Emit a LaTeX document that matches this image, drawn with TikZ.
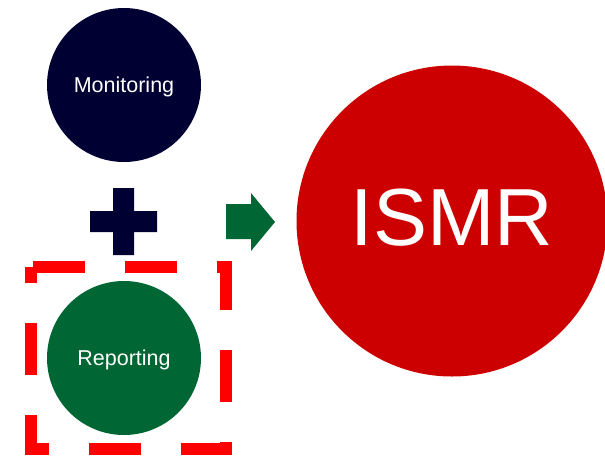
\documentclass[tikz,border=0pt]{standalone}
\usepackage{fontspec}
\setmainfont{Liberation Sans}
\usepackage{tikz}

\definecolor{navy}{HTML}{000033}
\definecolor{darkgreen}{HTML}{006633}
\definecolor{ismrred}{HTML}{CC0000}

\tikzset{
	bubble/.style={circle, inner sep=0pt, minimum size=154pt, text=white, text depth=0pt,
		font=\fontsize{21.5}{24}\selectfont},
	redbox/.style={draw=red, line width=12.5pt, dash pattern=on 52pt off 40pt, dash phase=90pt}
}

\begin{document}
\begin{tikzpicture}[x=1pt, y=-1pt]
	\useasboundingbox (0,0) rectangle (605,456);

	\node[bubble, fill=navy] (mon) at (124,85) {Monitoring};
	\node[bubble, fill=darkgreen] (rep) at (124,358) {Reporting};
	\node[bubble, fill=ismrred, minimum size=311pt, font=\fontsize{81}{90}\selectfont] (ismr) at (452,221) {\raisebox{7pt}{ISMR}};

	% plus sign
	\fill[navy] (113,188) -- (134,188) -- (134,211) -- (157,211) -- (157,232) -- (134,232)
		-- (134,255) -- (113,255) -- (113,232) -- (90,232) -- (90,211) -- (113,211) -- cycle;

	% block arrow
	\fill[darkgreen] (226,204) -- (251,204) -- (251,193) -- (275,222) -- (251,251)
		-- (251,239) -- (226,239) -- cycle;

	% dashed frame round reporting
	\draw[redbox] (31,267) -- (226,267) -- (226,449) -- (31,449) -- cycle;
\end{tikzpicture}
\end{document}
